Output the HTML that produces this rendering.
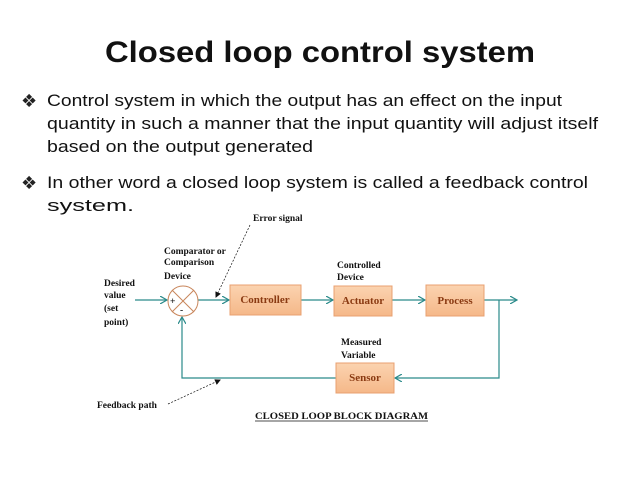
<!DOCTYPE html>
<html><head><meta charset="utf-8"><style>
html,body{margin:0;padding:0;background:#fff;}
svg{display:block}
.s{font-family:"Liberation Serif",serif;font-size:9.5px;font-weight:bold;fill:#111;}
.b{font-family:"Liberation Serif",serif;font-size:11px;font-weight:bold;fill:#8a3a12;}
.t{font-family:"Liberation Sans",sans-serif;font-size:17px;fill:#111;}
</style></head><body>
<svg width="638" height="479" viewBox="0 0 638 479" xmlns="http://www.w3.org/2000/svg">
<defs>
<marker id="a" markerWidth="8" markerHeight="8" refX="7" refY="4" orient="auto" markerUnits="userSpaceOnUse"><path d="M0,0 L7,4 L0,8" fill="none" stroke="#2a8a8a" stroke-width="1.2"/></marker>
<marker id="d" markerWidth="6" markerHeight="6" refX="5" refY="3" orient="auto" markerUnits="userSpaceOnUse"><path d="M0,0 L6,3 L0,6z" fill="#111"/></marker>
<linearGradient id="g" x1="0" y1="0" x2="0" y2="1"><stop offset="0" stop-color="#fbd3b0"/><stop offset="1" stop-color="#f5b889"/></linearGradient>
</defs>
<text x="320" y="62" text-anchor="middle" font-family="Liberation Sans,sans-serif" font-weight="bold" font-size="30" textLength="430" lengthAdjust="spacingAndGlyphs" fill="#111">Closed loop control system</text>
<g fill="#222"><text x="21" y="107" font-size="18" font-family="DejaVu Sans,sans-serif">❖</text><text x="21" y="189" font-size="18" font-family="DejaVu Sans,sans-serif">❖</text></g>
<text class="t" x="47" y="106" textLength="515" lengthAdjust="spacingAndGlyphs">Control system in which the output has an effect on the input</text>
<text class="t" x="47" y="129" textLength="551" lengthAdjust="spacingAndGlyphs">quantity in such a manner that the input quantity will adjust itself</text>
<text class="t" x="47" y="152" textLength="266" lengthAdjust="spacingAndGlyphs">based on the output generated</text>
<text class="t" x="47" y="188" textLength="541" lengthAdjust="spacingAndGlyphs">In other word a closed loop system is called  a feedback control</text>
<text class="t" x="47" y="211" textLength="87" lengthAdjust="spacingAndGlyphs">system.</text>

<g stroke="#2a8a8a" stroke-width="1.2" fill="none">
<line x1="135" y1="300" x2="167" y2="300" marker-end="url(#a)"/>
<line x1="198" y1="300" x2="229" y2="300" marker-end="url(#a)"/>
<line x1="301" y1="300" x2="333" y2="300" marker-end="url(#a)"/>
<line x1="392" y1="300" x2="425" y2="300" marker-end="url(#a)"/>
<line x1="484" y1="300" x2="517" y2="300" marker-end="url(#a)"/>
<polyline points="499,300 499,378 395,378" marker-end="url(#a)"/>
<polyline points="336,378 182,378 182,317" marker-end="url(#a)"/>
</g>
<circle cx="183" cy="301" r="15" fill="#fff" stroke="#c8855a" stroke-width="1"/>
<line x1="172" y1="290" x2="194" y2="312" stroke="#c8855a"/>
<line x1="194" y1="290" x2="172" y2="312" stroke="#c8855a"/>
<text class="s" x="170" y="304">+</text>
<text class="s" x="180" y="313">-</text>
<g fill="url(#g)" stroke="#e8a070" stroke-width="1">
<rect x="230" y="285" width="71" height="30"/>
<rect x="334" y="286" width="58" height="30"/>
<rect x="426" y="285" width="58" height="31"/>
<rect x="336" y="363" width="58" height="30"/>
</g>
<text class="b" x="265" y="303" text-anchor="middle">Controller</text>
<text class="b" x="363" y="304" text-anchor="middle">Actuator</text>
<text class="b" x="455" y="304" text-anchor="middle">Process</text>
<text class="b" x="365" y="381" text-anchor="middle">Sensor</text>

<text class="s" x="104" y="286">Desired</text>
<text class="s" x="104" y="298">value</text>
<text class="s" x="104" y="311">(set</text>
<text class="s" x="104" y="325">point)</text>
<text class="s" x="164" y="254">Comparator or</text>
<text class="s" x="164" y="265">Comparison</text>
<text class="s" x="164" y="279">Device</text>
<text class="s" x="253" y="221">Error signal</text>
<text class="s" x="337" y="268">Controlled</text>
<text class="s" x="337" y="280">Device</text>
<text class="s" x="341" y="345">Measured</text>
<text class="s" x="341" y="358">Variable</text>
<text class="s" x="97" y="408">Feedback path</text>
<text class="s" x="255" y="419" textLength="173" lengthAdjust="spacingAndGlyphs">CLOSED LOOP BLOCK DIAGRAM</text>
<line x1="255" y1="421" x2="428" y2="421" stroke="#111" stroke-width="0.8"/>
<line x1="250" y1="225" x2="216" y2="297" stroke="#111" stroke-width="0.7" stroke-dasharray="2,1.5" marker-end="url(#d)"/>
<line x1="168" y1="404" x2="220" y2="380" stroke="#111" stroke-width="0.7" stroke-dasharray="2,1.5" marker-end="url(#d)"/>
</svg>
</body></html>
